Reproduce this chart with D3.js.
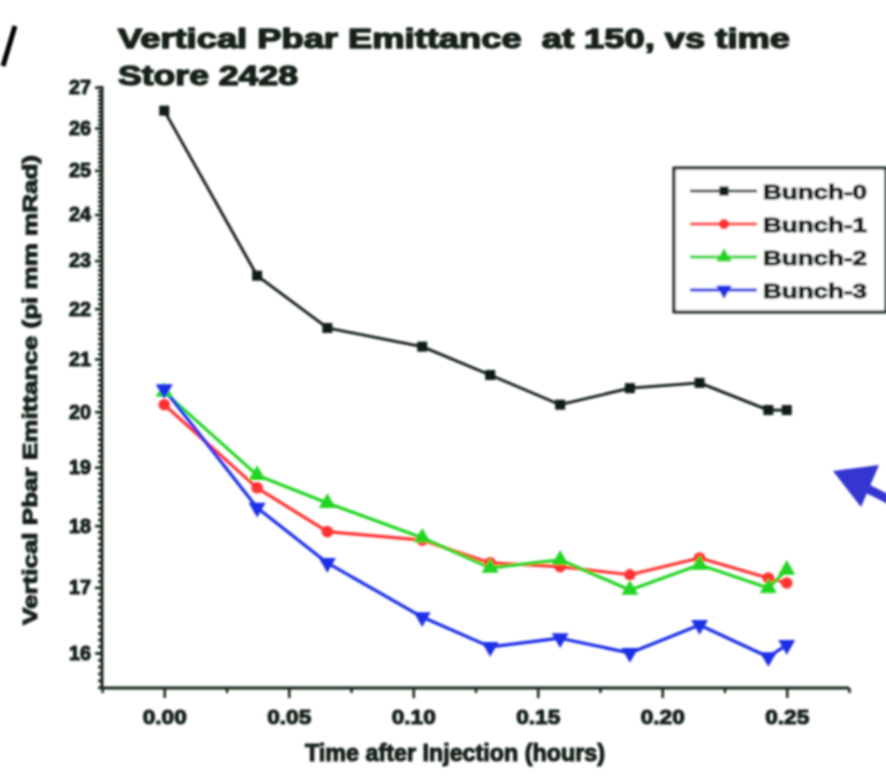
<!DOCTYPE html>
<html>
<head>
<meta charset="utf-8">
<script src="https://cdn.jsdelivr.net/npm/d3@7"></script>
<style>
  html, body { margin: 0; padding: 0; background: #ffffff; }
  svg { display: block; }
  text { font-family: "Liberation Sans", Arial, sans-serif; font-weight: bold; white-space: pre; }
</style>
</head>
<body>
<svg id="chart" width="886" height="779"></svg>
<script>
// ---- data ----
const times = [0, 0.0373, 0.0655, 0.1036, 0.1309, 0.159, 0.187, 0.215, 0.2426, 0.250];
const bunch0 = [26.42, 22.68, 21.61, 21.24, 20.69, 20.13, 20.44, 20.54, 20.03, 20.03];
const bunch1 = [20.13, 18.64, 17.90, 17.76, 17.39, 17.33, 17.20, 17.47, 17.15, 17.07];
const bunch2 = [20.37, 18.86, 18.38, 17.80, 17.31, 17.44, 16.96, 17.36, 16.99, 17.28];
const bunch3 = [20.42, 18.30, 17.39, 16.54, 16.09, 16.22, 16.00, 16.42, 15.94, 16.12];
const seriesNames = ["Bunch-0", "Bunch-1", "Bunch-2", "Bunch-3"];
const xTickValues = [0, 0.05, 0.10, 0.15, 0.20, 0.25];
const xTickLabels = ["0.00", "0.05", "0.10", "0.15", "0.20", "0.25"];
const yTickValues = [16, 17, 18, 19, 20, 21, 22, 23, 24, 25, 26, 27];
const titleLines = ["Vertical Pbar Emittance  at 150, vs time", "Store 2428"];
const xLabel = "Time after Injection (hours)";
const yLabel = "Vertical Pbar Emittance (pi mm mRad)";

// ---- styling ----
const ink = "#132018";
const colors = ["#101a14", "#ff3333", "#22d422", "#1f2ee6"];
const symbols = [d3.symbolSquare, d3.symbolCircle, d3.symbolTriangle, d3.symbolTriangle];
const symSize = [100, 105, 125, 125];
const symRot = [0, 0, 0, 180];

const svg = d3.select("#chart");
const defs = svg.append("defs");
defs.append("filter").attr("id", "soft")
  .attr("x", "-5%").attr("y", "-5%").attr("width", "110%").attr("height", "110%")
  .append("feGaussianBlur").attr("stdDeviation", 0.8);

const root = svg.append("g").attr("filter", "url(#soft)");

const x = d3.scaleLinear().domain([-0.025, 0.275]).range([102, 849]);
const y = d3.scaleLog().domain([15.49, 27.03]).range([688, 86]);

function heavy(sel, w) {
  return sel.attr("fill", ink).attr("stroke", ink).attr("stroke-width", w)
    .attr("stroke-linejoin", "round");
}

// ---- decorations from the slide ----
root.append("line").attr("x1", 15).attr("y1", 26).attr("x2", 3).attr("y2", 66)
  .attr("stroke", "#000").attr("stroke-width", 5);
root.append("path")
  .attr("d", "M833,471 L879,465 L861,507 Z")
  .attr("fill", "#3434d2");
root.append("line").attr("x1", 866).attr("y1", 488).attr("x2", 890).attr("y2", 500)
  .attr("stroke", "#3434d2").attr("stroke-width", 9);

// ---- title ----
heavy(root.append("text").attr("x", 118).attr("y", 48).attr("font-size", 27)
  .attr("textLength", 672).attr("lengthAdjust", "spacingAndGlyphs")
  .text(titleLines[0]), 1.4);
heavy(root.append("text").attr("x", 118).attr("y", 85).attr("font-size", 27)
  .attr("textLength", 180).attr("lengthAdjust", "spacingAndGlyphs")
  .text(titleLines[1]), 1.4);

// ---- axes ----
const xMinor = d3.range(-0.025, 0.2751, 0.05);
const xAxisMinor = d3.axisBottom(x).tickValues(xMinor).tickSize(5).tickFormat("");
const gxm = root.append("g").attr("transform", "translate(0,688)").call(xAxisMinor);
const xAxis = d3.axisBottom(x).tickValues(xTickValues).tickSize(10).tickPadding(11)
  .tickFormat((d, i) => xTickLabels[i]);
const gx = root.append("g").attr("transform", "translate(0,688)").call(xAxis);

const yMinor = d3.range(155, 271).map(v => v / 10);
const yAxisMinor = d3.axisLeft(y).tickValues(yMinor).tickSize(4).tickFormat("");
const gym = root.append("g").attr("transform", "translate(102,0)").call(yAxisMinor);
const yAxis = d3.axisLeft(y).tickValues(yTickValues).tickSize(7).tickPadding(4)
  .tickFormat(d3.format("d"));
const gy = root.append("g").attr("transform", "translate(102,0)").call(yAxis);

[gxm, gx, gym, gy].forEach(g => {
  g.selectAll(".domain").attr("stroke", ink).attr("stroke-width", 3);
  g.selectAll(".tick line").attr("stroke", ink).attr("stroke-width", 2.5);
});
heavy(gx.selectAll(".tick text").attr("font-size", 21)
  .attr("textLength", 44).attr("lengthAdjust", "spacingAndGlyphs"), 1.1);
heavy(gy.selectAll(".tick text").attr("font-size", 20)
  .attr("textLength", 22).attr("lengthAdjust", "spacingAndGlyphs"), 1.1);
[gxm, gym].forEach(g => g.select(".domain").attr("d", null));
gx.select(".domain").attr("d", `M102,0H849`);
gy.select(".domain").attr("d", `M0,688V86`);

// axis titles
heavy(root.append("text").attr("x", 455).attr("y", 761).attr("text-anchor", "middle")
  .attr("font-size", 23)
  .attr("textLength", 300).attr("lengthAdjust", "spacingAndGlyphs").text(xLabel), 1.1);
heavy(root.append("text").attr("transform", "translate(37,390) rotate(-90)")
  .attr("text-anchor", "middle").attr("font-size", 21)
  .attr("textLength", 470).attr("lengthAdjust", "spacingAndGlyphs").text(yLabel), 1.1);

// ---- series ----
const allSeries = [bunch0, bunch1, bunch2, bunch3];
const line = d3.line().x(d => x(d[0])).y(d => y(d[1]));
allSeries.forEach((vals, si) => {
  const pts = times.map((t, i) => [t, vals[i]]);
  root.append("path").datum(pts).attr("d", line)
    .attr("fill", "none").attr("stroke", colors[si])
    .attr("stroke-width", si === 0 ? 2.8 : 3.2).attr("stroke-linejoin", "round");
});
allSeries.forEach((vals, si) => {
  const sym = d3.symbol().type(symbols[si]).size(symSize[si]);
  root.append("g").selectAll("path").data(times.map((t, i) => [t, vals[i]]))
    .join("path")
    .attr("d", sym)
    .attr("transform", d => `translate(${x(d[0])},${y(d[1])}) rotate(${symRot[si]})`)
    .attr("fill", colors[si]);
});

// ---- legend ----
const lg = root.append("g");
lg.append("rect").attr("x", 674).attr("y", 168).attr("width", 212).attr("height", 144)
  .attr("fill", "#fff").attr("stroke", ink).attr("stroke-width", 3);
const legY = d3.scalePoint().domain(seriesNames).range([191, 290]);
seriesNames.forEach((name, si) => {
  const yy = legY(name);
  lg.append("line").attr("x1", 690).attr("x2", 757).attr("y1", yy).attr("y2", yy)
    .attr("stroke", colors[si]).attr("stroke-width", si === 0 ? 2.6 : 2.8);
  lg.append("path").attr("d", d3.symbol().type(symbols[si]).size(symSize[si] * 0.85)())
    .attr("transform", `translate(724,${yy}) rotate(${symRot[si]})`).attr("fill", colors[si]);
  heavy(lg.append("text").attr("x", 763).attr("y", yy + 8).attr("font-size", 21)
    .attr("textLength", 104).attr("lengthAdjust", "spacingAndGlyphs").text(name), 1.1);
});
</script>
</body>
</html>
